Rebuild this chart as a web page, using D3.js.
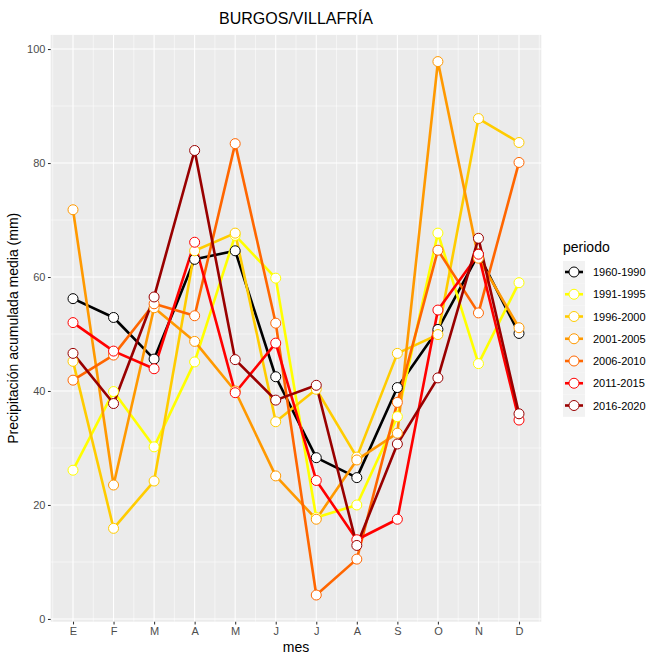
<!DOCTYPE html>
<html>
<head>
<meta charset="utf-8">
<script src="https://cdn.jsdelivr.net/npm/d3@7"></script>
<style>
  body { margin: 0; background: #fff; }
  text { font-family: "Liberation Sans", Arial, sans-serif; }
</style>
</head>
<body>
<script>
const meses = ["E", "F", "M", "A", "M", "J", "J", "A", "S", "O", "N", "D"];
const periodos = ["1960-1990", "1991-1995", "1996-2000", "2001-2005", "2006-2010", "2011-2015", "2016-2020"];
const colores = ["#000000", "#FFFF00", "#FFCC00", "#FF9900", "#FF6600", "#FF0000", "#990000"];

const p1960_1990 = [56.2, 52.9, 45.6, 63.1, 64.6, 42.5, 28.3, 24.8, 40.6, 50.8, 64.0, 50.1];
const p1991_1995 = [26.1, 39.9, 30.2, 45.1, 67.3, 59.8, 17.8, 20.0, 35.5, 67.7, 44.8, 59.0];
const p1996_2000 = [45.2, 15.9, 24.2, 64.6, 67.7, 34.6, 40.3, 28.4, 46.6, 49.9, 87.8, 83.6];
const p2001_2005 = [71.8, 23.5, 54.6, 48.7, 40.0, 25.1, 17.5, 27.9, 32.6, 97.8, 63.3, 51.1];
const p2006_2010 = [41.9, 46.3, 55.3, 53.2, 83.4, 51.9, 4.2, 10.5, 38.0, 64.7, 53.7, 80.1];
const p2011_2015 = [52.0, 47.0, 43.9, 66.1, 39.7, 48.4, 24.3, 13.9, 17.5, 54.2, 64.0, 34.9];
const p2016_2020 = [46.6, 37.8, 56.5, 82.2, 45.5, 38.4, 41.0, 12.9, 30.7, 42.3, 66.8, 36.0];

const yTicks = [0, 20, 40, 60, 80, 100];

const series = [p1960_1990, p1991_1995, p1996_2000, p2001_2005, p2006_2010, p2011_2015, p2016_2020]
  .map((vals, i) => ({ periodo: periodos[i], color: colores[i], values: vals.map((v, j) => ({ mes: j + 1, v })) }));

const W = 648, H = 655;
const panel = { left: 50.7, right: 541.3, top: 34.9, bottom: 621.7 };

const svg = d3.select("body").append("svg")
  .attr("width", W)
  .attr("height", H);

const x = d3.scaleLinear().domain([0.45, 12.55]).range([panel.left, panel.right]);
const y = d3.scaleLinear().domain([-0.48, 102.48]).range([panel.bottom, panel.top]);

// panel background
svg.append("rect")
  .attr("x", panel.left).attr("y", panel.top)
  .attr("width", panel.right - panel.left).attr("height", panel.bottom - panel.top)
  .attr("fill", "#EBEBEB");

const grid = svg.append("g");
// minor grid
d3.range(10, 101, 20).forEach(v => {
  grid.append("line").attr("x1", panel.left).attr("x2", panel.right)
    .attr("y1", y(v)).attr("y2", y(v)).attr("stroke", "#fff").attr("stroke-width", 0.53);
});
d3.range(0.5, 12.6, 1).forEach(v => {
  grid.append("line").attr("y1", panel.top).attr("y2", panel.bottom)
    .attr("x1", x(v)).attr("x2", x(v)).attr("stroke", "#fff").attr("stroke-width", 0.53);
});
// major grid
yTicks.forEach(v => {
  grid.append("line").attr("x1", panel.left).attr("x2", panel.right)
    .attr("y1", y(v)).attr("y2", y(v)).attr("stroke", "#fff").attr("stroke-width", 1.07);
});
d3.range(1, 13).forEach(v => {
  grid.append("line").attr("y1", panel.top).attr("y2", panel.bottom)
    .attr("x1", x(v)).attr("x2", x(v)).attr("stroke", "#fff").attr("stroke-width", 1.07);
});

// axes
const yAxis = svg.append("g")
  .attr("transform", `translate(${panel.left},0)`)
  .call(d3.axisLeft(y).tickValues(yTicks).tickSize(2.75).tickPadding(2.5));
const xAxis = svg.append("g")
  .attr("transform", `translate(0,${panel.bottom})`)
  .call(d3.axisBottom(x).tickValues(d3.range(1, 13)).tickSize(2.75).tickPadding(3)
    .tickFormat(d => meses[d - 1]));
[xAxis, yAxis].forEach(g => {
  g.select(".domain").remove();
  g.selectAll(".tick line").attr("stroke", "#333").attr("stroke-width", 1.07);
  g.selectAll(".tick text").attr("fill", "#4D4D4D").style("font-size", "11px")
    .style("font-family", "Liberation Sans, Arial, sans-serif");
});

// lines
const line = d3.line().x(d => x(d.mes)).y(d => y(d.v));
svg.append("g").selectAll("path")
  .data(series)
  .join("path")
  .attr("d", d => line(d.values))
  .attr("fill", "none")
  .attr("stroke", d => d.color)
  .attr("stroke-width", 2.6)
  .attr("stroke-linejoin", "round");

// points
svg.append("g").selectAll("g")
  .data(series)
  .join("g")
  .attr("stroke", d => d.color)
  .selectAll("circle")
  .data(d => d.values)
  .join("circle")
  .attr("cx", d => x(d.mes))
  .attr("cy", d => y(d.v))
  .attr("r", 5)
  .attr("fill", "#fff")
  .attr("stroke-width", 1);

// title and axis titles
svg.append("text")
  .attr("x", (panel.left + panel.right) / 2)
  .attr("y", 24)
  .attr("text-anchor", "middle")
  .style("font-size", "16px")
  .text("BURGOS/VILLAFRÍA");

svg.append("text")
  .attr("x", (panel.left + panel.right) / 2)
  .attr("y", 652)
  .attr("text-anchor", "middle")
  .style("font-size", "14px")
  .text("mes");

svg.append("text")
  .attr("transform", `translate(18,${(panel.top + panel.bottom) / 2}) rotate(-90)`)
  .attr("text-anchor", "middle")
  .style("font-size", "14px")
  .text("Precipitación acumulada media (mm)");

// legend
const legend = svg.append("g").attr("transform", "translate(563,0)");
legend.append("text")
  .attr("x", 0).attr("y", 252)
  .style("font-size", "14px")
  .text("periodo");

const rowY = d3.scalePoint().domain(periodos).range([272, 405.5]);
const key = legend.selectAll("g.key")
  .data(series)
  .join("g")
  .attr("class", "key")
  .attr("transform", d => `translate(0,${rowY(d.periodo)})`);
key.append("rect")
  .attr("x", 0).attr("y", -11).attr("width", 22).attr("height", 22.3)
  .attr("fill", "#F2F2F2");
key.append("line")
  .attr("x1", 2).attr("x2", 20)
  .attr("stroke", d => d.color).attr("stroke-width", 2.6);
key.append("circle")
  .attr("cx", 11).attr("r", 5)
  .attr("fill", "#fff").attr("stroke", d => d.color).attr("stroke-width", 1);
key.append("text")
  .attr("x", 30).attr("y", 4)
  .style("font-size", "11px")
  .attr("fill", "#000")
  .text(d => d.periodo);
</script>
</body>
</html>
